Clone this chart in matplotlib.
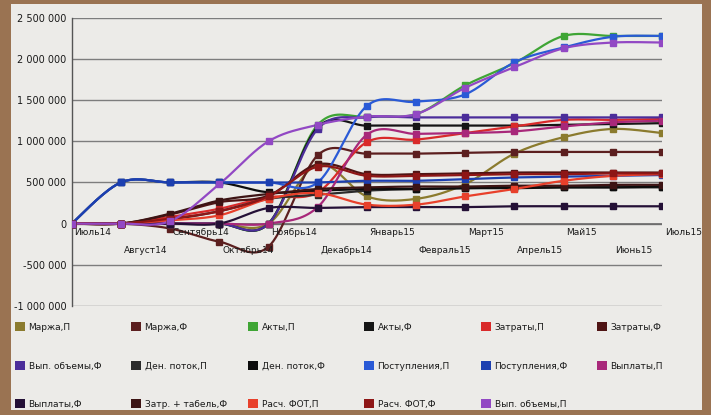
import numpy as np
import matplotlib
matplotlib.use("Agg")
import matplotlib.pyplot as plt
from matplotlib.patches import Rectangle
from matplotlib.ticker import FuncFormatter

months = ["Июль14", "Август14", "Сентябрь14", "Октябрь14", "Ноябрь14", "Декабрь14",
          "Январь15", "Февраль15", "Март15", "Апрель15", "Май15", "Июнь15", "Июль15"]

series_names = ["Маржа,П", "Маржа,Ф", "Акты,П", "Акты,Ф", "Затраты,П", "Затраты,Ф",
                "Вып. объемы,Ф", "Ден. поток,П", "Ден. поток,Ф", "Поступления,П", "Поступления,Ф", "Выплаты,П",
                "Выплаты,Ф", "Затр. + табель,Ф", "Расч. ФОТ,П", "Расч. ФОТ,Ф", "Вып. объемы,П"]

series_colors = ["#8b7b2e", "#5c1f1f", "#3fa535", "#151515", "#d92a2a", "#4f1414",
                 "#4b2d9a", "#2b2b2b", "#0d0d0d", "#2a5ad6", "#1c3fb0", "#a8287a",
                 "#241036", "#3d1414", "#e8402b", "#8e1616", "#9248c4"]

# values in thousands
marzha_p = [0, 0, 0, 0, 0, 720, 330, 300, 480, 850, 1050, 1150, 1100]
marzha_f = [0, 0, -60, -220, -280, 830, 850, 850, 860, 870, 870, 870, 870]
akty_p = [0, 0, 0, 0, 0, 1200, 1300, 1330, 1680, 1950, 2280, 2280, 2280]
akty_f = [0, 0, 0, 0, 0, 1170, 1190, 1190, 1190, 1190, 1200, 1210, 1220]
zatraty_p = [0, 0, 80, 180, 320, 380, 990, 1020, 1100, 1180, 1260, 1260, 1270]
zatraty_f = [0, 0, 110, 260, 340, 720, 600, 600, 610, 620, 620, 620, 620]
vyp_obemy_f = [0, 0, 0, 0, 0, 1150, 1290, 1290, 1290, 1290, 1290, 1290, 1290]
den_potok_p = [0, 0, 50, 150, 300, 350, 400, 420, 430, 440, 440, 440, 440]
den_potok_f = [0, 500, 500, 500, 380, 400, 420, 420, 430, 430, 440, 440, 450]
postupleniya_p = [0, 500, 500, 500, 500, 500, 1430, 1480, 1570, 1960, 2140, 2270, 2280]
postupleniya_f = [0, 500, 500, 500, 500, 500, 520, 520, 540, 560, 570, 580, 590]
vyplaty_p = [0, 0, 0, 0, 0, 200, 1080, 1090, 1100, 1120, 1180, 1230, 1250]
vyplaty_f = [0, 0, 0, 0, 190, 190, 200, 200, 200, 210, 210, 210, 210]
zatr_tabel_f = [0, 0, 120, 280, 360, 420, 440, 450, 450, 460, 460, 470, 470]
rasch_fot_p = [0, 0, 40, 100, 300, 370, 230, 230, 330, 420, 520, 580, 600]
rasch_fot_f = [0, 0, 60, 150, 330, 690, 580, 580, 590, 600, 600, 610, 610]
vyp_obemy_p = [0, 0, 30, 480, 1000, 1200, 1300, 1330, 1650, 1900, 2130, 2200, 2200]

series_values = [marzha_p, marzha_f, akty_p, akty_f, zatraty_p, zatraty_f,
                 vyp_obemy_f, den_potok_p, den_potok_f, postupleniya_p, postupleniya_f, vyplaty_p,
                 vyplaty_f, zatr_tabel_f, rasch_fot_p, rasch_fot_f, vyp_obemy_p]

y_ticks = [-1000000, -500000, 0, 500000, 1000000, 1500000, 2000000, 2500000]


def smooth(x, y, n=20):
    x = np.asarray(x, float)
    y = np.asarray(y, float)
    xs, ys = [], []
    for i in range(len(x) - 1):
        p0 = (x[i - 1], y[i - 1]) if i > 0 else (x[i], y[i])
        p1 = (x[i], y[i])
        p2 = (x[i + 1], y[i + 1])
        p3 = (x[i + 2], y[i + 2]) if i + 2 < len(x) else (x[i + 1], y[i + 1])
        c1 = (p1[0] + (p2[0] - p0[0]) / 6, p1[1] + (p2[1] - p0[1]) / 6)
        c2 = (p2[0] - (p3[0] - p1[0]) / 6, p2[1] - (p3[1] - p1[1]) / 6)
        t = np.linspace(0, 1, n, endpoint=(i == len(x) - 2))
        bx = (1 - t) ** 3 * p1[0] + 3 * (1 - t) ** 2 * t * c1[0] + 3 * (1 - t) * t ** 2 * c2[0] + t ** 3 * p2[0]
        by = (1 - t) ** 3 * p1[1] + 3 * (1 - t) ** 2 * t * c1[1] + 3 * (1 - t) * t ** 2 * c2[1] + t ** 3 * p2[1]
        xs.append(bx)
        ys.append(by)
    return np.concatenate(xs), np.concatenate(ys)


W, H = 711, 415
fig = plt.figure(figsize=(W / 100, H / 100), dpi=100)
fig.patch.set_facecolor("#9a7352")
fig.patches.append(Rectangle((0.016, 0.012), 0.972, 0.978, transform=fig.transFigure,
                             facecolor="#ecebe8", edgecolor="none", zorder=-10))

ax = fig.add_axes([0.101, 0.263, 0.830, 0.694], zorder=2)
ax.patch.set_alpha(0)

x = np.arange(len(months))
for name, vals, col in zip(series_names, series_values, series_colors):
    yv = np.array(vals) * 1000.0
    sx, sy = smooth(x, yv)
    ax.plot(sx, sy, color=col, lw=1.6, solid_capstyle="round", zorder=3)
    ax.plot(x, yv, ls="none", marker="s", ms=5, color=col, zorder=4)

ax.set_xlim(0, 12)
ax.set_ylim(-1000000, 2500000)
ax.set_yticks(y_ticks)
ax.yaxis.set_major_formatter(FuncFormatter(lambda v, p: f"{int(v):,}".replace(",", " ")))
ax.tick_params(axis="y", length=0, labelsize=7, pad=4, labelcolor="#1a1a1a")
ax.set_xticks([])
ax.grid(axis="y", color="#7d7d7d", lw=1.0, zorder=1)
ax.axhline(0, color="#6a6a6a", lw=1.2, zorder=2)
for s in ["top", "right", "bottom"]:
    ax.spines[s].set_visible(False)
ax.spines["left"].set_color("#555555")
ax.spines["left"].set_linewidth(1.0)

for i, m in enumerate(months):
    yoff = -3 if i % 2 == 0 else -16
    ax.annotate(m, (i, 0), xytext=(2, yoff), textcoords="offset points",
                ha="left", va="top", fontsize=6.5, color="#1a1a1a", zorder=5)

handles = [Rectangle((0, 0), 1, 1, facecolor=c, edgecolor="none") for c in series_colors]
col_px = [15, 131, 248, 364, 481, 597]
row_px = [327, 366, 404]
for k, (name, h) in enumerate(zip(series_names, handles)):
    r, c = divmod(k, 6)
    leg = fig.legend([h], [name], loc="center left",
                     bbox_to_anchor=(col_px[c] / W, 1 - row_px[r] / H),
                     frameon=False, fontsize=6.5, handlelength=1.1, handleheight=1.1,
                     handletextpad=0.4, borderpad=0.0, borderaxespad=0)
    for t in leg.get_texts():
        t.set_color("#1a1a1a")

fig.savefig("out.png", dpi=100, facecolor=fig.get_facecolor())
